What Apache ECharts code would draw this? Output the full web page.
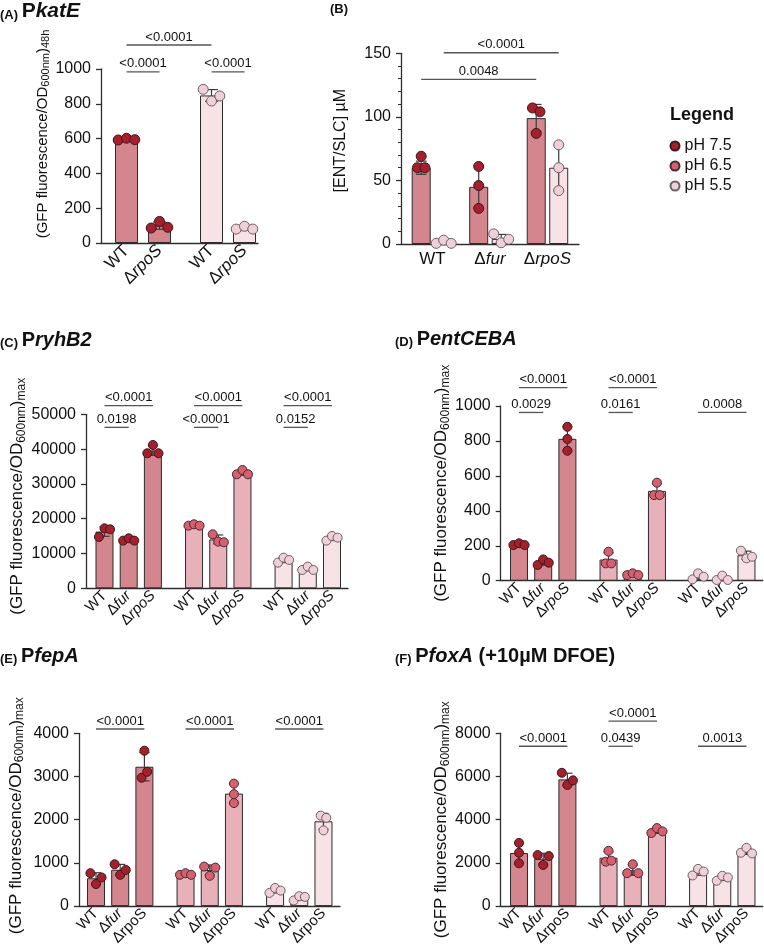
<!DOCTYPE html>
<html><head><meta charset="utf-8">
<script src="https://cdn.jsdelivr.net/npm/echarts@6/dist/echarts.min.js"></script>
<style>html,body{margin:0;padding:0;background:#fff}#c{width:764px;height:948px}</style>
</head><body><div id="c"></div>
<script>
// ================= DATA =================
const PH = ['pH 7.5', 'pH 6.5', 'pH 5.5'];
const STRAINS2 = ['WT', 'ΔrpoS'];
const STRAINS3 = ['WT', 'Δfur', 'ΔrpoS'];

// (A) PkatE : groups = pH, members = strains
const groupsA = ['pH 7.5', 'pH 5.5'];
const meanA = [[596, 100], [848, 85]];
const repsA = [[[592, 602, 594], [86, 124, 90]], [[883, 816, 845], [80, 96, 80]]];
const compA = [[0, 0, 0, 1, '<0.0001', 1], [1, 0, 1, 1, '<0.0001', 1], [0, 0, 1, 0, '<0.0001', 2]];
const ticksA = [0, 200, 400, 600, 800, 1000];

// (B) [ENT/SLC] : groups = strains, members = pH
const membersB = ['pH 7.5', 'pH 5.5'];
const meanB = [[60, 1.4], [45, 4], [99, 60]];
const repsB = [[[60, 69, 60], [0.5, 3, 0.5]], [[61, 46, 28], [8, 1, 3.7]], [[107, 87, 104], [78, 60, 42]]];
const compB = [[0, 0, 2, 0, '0.0048', 1], [0, 1, 2, 1, '<0.0001', 2]];
const ticksB = [0, 50, 100, 150];

// (C) PryhB2
const meanC = [[16300, 13900, 39600], [18100, 14050, 33200], [8100, 5600, 14400]];
const repsC = [
  [[14750, 17240, 16950], [13700, 14370, 13700], [38800, 41190, 38800]],
  [[18000, 18390, 18000], [15520, 13410, 13220], [32760, 34000, 32760]],
  [[7375, 8810, 8140], [5270, 6230, 5270], [13700, 15040, 14560]]];
const compC = [[0, 0, 0, 1, '0.0198', 1], [0, 0, 0, 2, '<0.0001', 2], [1, 0, 1, 1, '<0.0001', 1],
  [1, 0, 1, 2, '<0.0001', 2], [2, 0, 2, 1, '0.0152', 1], [2, 0, 2, 2, '<0.0001', 2]];
const ticksC = [0, 10000, 20000, 30000, 40000, 50000];

// (D) PentCEBA
const meanD = [[207, 105, 812], [121, 35, 514], [24, 12, 146]];
const repsD = [
  [[204, 214, 204], [90, 122, 103], [881, 811, 744]],
  [[99, 166, 99], [32, 42, 32], [490, 561, 490]],
  [[8, 42, 23], [4, 29, 4], [172, 128, 137]]];
const compD = [[0, 0, 0, 1, '0.0029', 1], [0, 0, 0, 2, '<0.0001', 2], [1, 0, 1, 1, '0.0161', 1],
  [1, 0, 1, 2, '<0.0001', 2], [2, 0, 2, 2, '0.0008', 1]];
const ticksD = [0, 200, 400, 600, 800, 1000];

// (E) PfepA
const meanE = [[645, 843, 3226], [737, 835, 2604], [361, 191, 1963]];
const repsE = [
  [[762, 510, 663], [968, 724, 838], [2972, 3597, 3109]],
  [[724, 762, 724], [914, 701, 891], [2835, 2591, 2385]],
  [[305, 419, 358], [130, 229, 213], [2095, 1753, 2042]]];
const compE = [[0, 0, 0, 2, '<0.0001', 1], [1, 0, 1, 2, '<0.0001', 1], [2, 0, 2, 2, '<0.0001', 1]];
const ticksE = [0, 1000, 2000, 3000, 4000];

// (F) PfoxA (+10µM DFOE)
const meanF = [[2459, 2194, 5867], [2240, 1661, 3485], [1580, 1300, 2535]];
const repsF = [
  [[2926, 2469, 1981], [2362, 1905, 2316], [6171, 5608, 5821]],
  [[2057, 2560, 2103], [1524, 1935, 1524], [3383, 3612, 3459]],
  [[1417, 1722, 1600], [1173, 1402, 1326], [2469, 2697, 2438]]];
const compF = [[0, 0, 0, 2, '<0.0001', 1], [1, 0, 1, 1, '0.0439', 1], [1, 0, 1, 2, '<0.0001', 2], [2, 0, 2, 2, '0.0013', 1]];
const ticksF = [0, 2000, 4000, 6000, 8000];

const NAME_GFP48 = '{m|(GFP fluorescence/OD}{s|600nm}{m|)}{s|48h}';
const NAME_GFPMAX = '{m|(GFP fluorescence/OD}{s|600nm}{m|)}{s|max}';
const NAME_ENT = '{m|[ENT/SLC] µM}';

// ================= STYLE / LAYOUT =================
const FONT = '"Liberation Sans", Arial, Helvetica, sans-serif';
const AX = '#2e2e2e';
const BAR_COLOR = {'pH 7.5': '#d4868e', 'pH 6.5': '#e8b1ba', 'pH 5.5': '#f7e2e6'};
const DOT_COLOR = {'pH 7.5': '#a51f2d', 'pH 6.5': '#d6606f', 'pH 5.5': '#efd0d8'};
const DOT_BORDER = {'pH 7.5': '#3a1a1d', 'pH 6.5': '#4a2a2e', 'pH 5.5': '#6e5f63'};

function nameRich(fs) {
  const ss = Math.round(fs * 0.7);
  return {
    m: {fontSize: fs, lineHeight: fs + 3, fontFamily: FONT, color: '#111'},
    s: {fontSize: ss, lineHeight: ss, verticalAlign: 'bottom', fontFamily: FONT, color: '#111'}
  };
}
function titleRich(fs) {
  return {
    l: {fontSize: 13, fontWeight: 'bold', lineHeight: 14, verticalAlign: 'bottom', fontFamily: FONT, color: '#111'},
    b: {fontSize: fs, fontWeight: 'bold', lineHeight: fs + 1, verticalAlign: 'bottom', fontFamily: FONT, color: '#111'},
    bi: {fontSize: fs, fontWeight: 'bold', fontStyle: 'italic', lineHeight: fs + 1, verticalAlign: 'bottom', fontFamily: FONT, color: '#111'}
  };
}

const grids = [], xAxes = [], yAxes = [], series = [], titles = [];

function sdev(a) {
  const m = a.reduce((s, v) => s + v, 0) / a.length;
  return Math.sqrt(a.reduce((s, v) => s + (v - m) * (v - m), 0) / (a.length - 1));
}
// beeswarm-like horizontal spread of replicate dots that overlap vertically
function swarm(vals, pxPerVal, d, spacing) {
  const n = vals.length, ys = vals.map(v => v * pxPerVal);
  const parent = vals.map((_, i) => i);
  const find = i => parent[i] === i ? i : (parent[i] = find(parent[i]));
  for (let i = 0; i < n; i++) for (let j = i + 1; j < n; j++)
    if (Math.abs(ys[i] - ys[j]) < d) parent[find(i)] = find(j);
  const groups = {};
  vals.forEach((_, i) => { const r = find(i); (groups[r] = groups[r] || []).push(i); });
  const off = new Array(n).fill(0);
  Object.values(groups).forEach(g => g.forEach((i, k) => { off[i] = (k - (g.length - 1) / 2) * spacing; }));
  return off;
}

function buildPanel(k, L, D) {
  const yMax = D.ticks[D.ticks.length - 1], yInt = D.ticks[1] - D.ticks[0];
  const xmin = -L.first / L.u, xmax = xmin + L.width / L.u;
  const pos = (g, m) => g * L.period + m;
  const phOf = (g, m) => D.byPH ? D.groups[g] : D.members[m];
  const nameOf = (g, m) => D.byPH ? D.members[m] : D.groups[g];
  grids.push({left: L.left, top: L.top, width: L.width, height: L.height});

  const labelPos = [], labelTxt = [];
  if (L.perBar) D.groups.forEach((_, g) => D.members.forEach((_, m) => { labelPos.push(pos(g, m)); labelTxt.push(nameOf(g, m)); }));
  else D.groups.forEach((nm, g) => { labelPos.push(pos(g, (D.members.length - 1) / 2)); labelTxt.push(nm); });
  const fmt = v => {
    let bi = 0;
    labelPos.forEach((p, i) => { if (Math.abs(p - v) < Math.abs(labelPos[bi] - v)) bi = i; });
    const t = labelTxt[bi];
    if (t[0] === 'Δ') { const rest = t.slice(1); return '{n|Δ}{' + (L.italic.includes(rest) ? 'i' : 'n') + '|' + rest + '}'; }
    return '{n|' + t + '}';
  };
  xAxes.push({
    gridIndex: k, type: 'value', min: xmin, max: xmax,
    axisLine: {show: true, onZero: false, lineStyle: {color: AX, width: 1.3}},
    axisTick: {show: false}, splitLine: {show: false},
    axisLabel: {show: true, customValues: labelPos, formatter: fmt, rotate: L.rotate, margin: L.xMargin,
      rich: {n: {fontSize: L.xFont, fontFamily: FONT, color: '#111'},
             i: {fontSize: L.xFont, fontFamily: FONT, color: '#111', fontStyle: 'italic'}}}
  });
  yAxes.push({
    gridIndex: k, type: 'value', min: 0, max: yMax, interval: yInt,
    axisLine: {show: true, onZero: false, lineStyle: {color: AX, width: 1.3}},
    axisTick: {show: true, length: 5, lineStyle: {color: AX, width: 1.3}},
    minorTick: {show: !!L.minor, splitNumber: 5, length: 3, lineStyle: {color: AX, width: 1}},
    splitLine: {show: false}, minorSplitLine: {show: false},
    axisLabel: {fontSize: 16, color: '#111', margin: 10, fontFamily: FONT, formatter: v => String(v)},
    name: D.yName, nameLocation: 'middle', nameGap: L.nameGap,
    nameTextStyle: {padding: [0, 0, 0, L.nameShift * 2], rich: nameRich(L.nameFont)}
  });

  const barData = [], errData = [], dotData = {};
  D.groups.forEach((_, g) => D.members.forEach((_, m) => {
    const ph = phOf(g, m), x = pos(g, m), mean = D.mean[g][m], reps = D.reps[g][m];
    barData.push({value: [x, mean], itemStyle: {color: BAR_COLOR[ph]}});
    const s = sdev(reps);
    errData.push([x, Math.max(0, mean - s), mean + s]);
    const off = swarm(reps, L.height / yMax, L.dot, L.dot * L.spread);
    (dotData[ph] = dotData[ph] || []).push(...reps.map((v, i) => [x + off[i] / L.u, v]));
  }));
  series.push({type: 'bar', xAxisIndex: k, yAxisIndex: k, barWidth: L.barW, data: barData,
    itemStyle: {borderColor: '#2b2b2b', borderWidth: 1}, silent: true, z: 2});
  series.push({type: 'custom', xAxisIndex: k, yAxisIndex: k, data: errData, encode: {x: 0, y: [1, 2]},
    z: 3, silent: true, clip: false,
    renderItem: (p, api) => {
      const x = api.value(0);
      const lo = api.coord([x, api.value(1)]), hi = api.coord([x, api.value(2)]);
      const w = L.barW * 0.28, st = {stroke: '#3a3a3a', lineWidth: 1.2};
      return {type: 'group', children: [
        {type: 'line', shape: {x1: lo[0], y1: lo[1], x2: hi[0], y2: hi[1]}, style: st},
        {type: 'line', shape: {x1: hi[0] - w, y1: hi[1], x2: hi[0] + w, y2: hi[1]}, style: st},
        {type: 'line', shape: {x1: lo[0] - w, y1: lo[1], x2: lo[0] + w, y2: lo[1]}, style: st}]};
    }});
  Object.keys(dotData).forEach(ph => series.push({
    type: 'scatter', name: ph, xAxisIndex: k, yAxisIndex: k, data: dotData[ph], symbolSize: L.dot,
    itemStyle: {color: DOT_COLOR[ph], borderColor: DOT_BORDER[ph], borderWidth: 1, opacity: 1}, z: 4, silent: true}));

  const sigData = D.comps.map(c => [pos(c[0], c[1]), pos(c[2], c[3]), yMax * L.tiers[c[5] - 1]]);
  series.push({type: 'custom', xAxisIndex: k, yAxisIndex: k, clip: false, data: sigData,
    encode: {x: [0, 1], y: 2}, z: 5, silent: true,
    renderItem: (p, api) => {
      const c = D.comps[p.dataIndex];
      const a = api.coord([api.value(0), api.value(2)]), b = api.coord([api.value(1), api.value(2)]);
      return {type: 'group', children: [
        {type: 'line', shape: {x1: a[0], y1: a[1], x2: b[0], y2: b[1]}, style: {stroke: '#555', lineWidth: 1.3}},
        {type: 'text', style: {text: c[4], x: (a[0] + b[0]) / 2, y: a[1] - 1.5, align: 'center', verticalAlign: 'bottom',
          fontSize: 13, fontFamily: FONT, fill: '#111'}}]};
    }});

  titles.push({left: L.tLeft, top: L.tTop, padding: 0, text: D.title, textStyle: {rich: titleRich(L.tFont)}});
}

const LC = {u: 24.2, period: 3.7, barW: 18, dot: 9, spread: 0.62, rotate: 45, xFont: 15, xMargin: 5, perBar: true,
  nameFont: 17, tFont: 20};
buildPanel(0, {left: 101, top: 69, width: 157, height: 174, u: 33, first: 25.5, period: 2.576, barW: 23, dot: 10,
  spread: 0.83, rotate: 45, xFont: 17, xMargin: 5, perBar: true, italic: ['rpoS'], nameGap: 47, nameShift: 22,
  nameFont: 15, tFont: 21, tiers: [0.984, 1.138], tLeft: 0, tTop: 0},
  {byPH: true, groups: groupsA, members: STRAINS2, mean: meanA, reps: repsA, comps: compA, ticks: ticksA,
   yName: NAME_GFP48, title: '{l|(A) }{b|P}{bi|katE}'});
buildPanel(1, {left: 401, top: 53.3, width: 178, height: 190.7, u: 22.5, first: 20.2, period: 2.556, barW: 19, dot: 10,
  spread: 0.75, rotate: 0, xFont: 17, xMargin: 7, perBar: false, italic: ['fur', 'rpoS'], nameGap: 51, nameShift: 8,
  nameFont: 16, tFont: 20, minor: true, tiers: [0.863, 1.003], tLeft: 330, tTop: 2},
  {byPH: false, groups: STRAINS3, members: membersB, mean: meanB, reps: repsB, comps: compB, ticks: ticksB,
   yName: NAME_ENT, title: '{l|(B)}'});
buildPanel(2, Object.assign({}, LC, {left: 86, top: 414.3, width: 262, height: 174, first: 18.5, italic: ['fur', 'rpoS'],
  nameGap: 57, nameShift: 5, tiers: [0.925, 1.05], tLeft: 0, tTop: 329}),
  {byPH: true, groups: PH, members: STRAINS3, mean: meanC, reps: repsC, comps: compC, ticks: ticksC,
   yName: NAME_GFPMAX, title: '{l|(C) }{b|P}{bi|ryhB2}'});
buildPanel(3, Object.assign({}, LC, {left: 500.7, top: 406, width: 262, height: 174.7, first: 18.3, italic: ['fur', 'rpoS'],
  nameGap: 49, nameShift: 10, tiers: [0.963, 1.105], tLeft: 395, tTop: 328}),
  {byPH: true, groups: PH, members: STRAINS3, mean: meanD, reps: repsD, comps: compD, ticks: ticksD,
   yName: NAME_GFPMAX, title: '{l|(D) }{b|P}{bi|entCEBA}'});
buildPanel(4, Object.assign({}, LC, {left: 79, top: 733.3, width: 261, height: 175, first: 17, italic: ['fur'],
  nameGap: 53, nameShift: 4, tiers: [1.025], tLeft: 0, tTop: 645}),
  {byPH: true, groups: PH, members: STRAINS3, mean: meanE, reps: repsE, comps: compE, ticks: ticksE,
   yName: NAME_GFPMAX, title: '{l|(E) }{b|P}{bi|fepA}'});
buildPanel(5, Object.assign({}, LC, {left: 500.7, top: 733.3, width: 262, height: 175, first: 18.3, italic: ['fur'],
  nameGap: 49, nameShift: 0, tiers: [0.925, 1.07], tLeft: 395, tTop: 645}),
  {byPH: true, groups: PH, members: STRAINS3, mean: meanF, reps: repsF, comps: compF, ticks: ticksF,
   yName: NAME_GFPMAX, title: '{l|(F) }{b|P}{bi|foxA}{b| (+10µM DFOE)}'});

titles.push({left: 670, top: 106, padding: 0, text: 'Legend',
  textStyle: {fontSize: 18, fontWeight: 'bold', color: '#111', fontFamily: FONT}});

const chart = echarts.init(document.getElementById('c'), null, {renderer: 'canvas'});
chart.setOption({
  animation: false,
  backgroundColor: '#fff',
  textStyle: {fontFamily: FONT},
  title: titles,
  legend: {data: PH, orient: 'vertical', left: 669.5, top: 138, itemWidth: 9, itemHeight: 9, itemGap: 4,
    icon: 'circle', selectedMode: false, padding: 0,
    textStyle: {fontSize: 16, lineHeight: 16, color: '#111', fontFamily: FONT}},
  grid: grids, xAxis: xAxes, yAxis: yAxes, series: series
});
</script></body></html>
